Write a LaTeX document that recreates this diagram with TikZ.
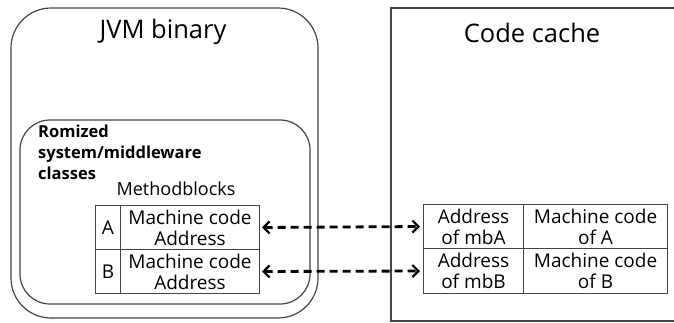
\documentclass[tikz,border=0pt]{standalone}
\usepackage{fontspec}
\setmainfont{Open Sans}
\usetikzlibrary{arrows.meta}
\definecolor{edge}{HTML}{444444}
\tikzset{
  cell/.style={draw=edge, line width=1pt, inner sep=0pt, align=center,
    font=\fontsize{19}{21}\selectfont, anchor=north west},
  barbtip/.tip={Straight Barb[length=6pt,width=12pt,line width=2.2pt]},
  link/.style={line width=2.8pt, dash pattern=on 8pt off 5pt, {barbtip}-{barbtip}},
  titletext/.style={font=\fontsize{25.5}{30}\selectfont},
}
\begin{document}
\begin{tikzpicture}[x=1pt,y=-1pt]
\useasboundingbox (0,0) rectangle (674,322);
\clip (0,0) rectangle (674,322);

% JVM binary container and the romized classes area inside it
\draw[edge, line width=1.2pt, rounded corners=40pt] (11,8) rectangle (318,318);
\node[titletext] (jvm) at (163,32) {JVM binary};
\draw[edge, line width=1.2pt, rounded corners=30pt] (20,120) rectangle (310,304);
\node[anchor=west, align=left, inner sep=0pt,
  font=\fontsize{16.5}{21}\selectfont\bfseries] (rom) at (38,152)
  {Romized\\system/middleware\\classes};
\node[font=\fontsize{18}{21}\selectfont] (mbl) at (176,189) {Methodblocks};

% method blocks
\node[cell, minimum width=25pt, minimum height=44pt] (la) at (95,205) {A};
\node[cell, minimum width=139pt, minimum height=44pt] (ma) at (120,205) {Machine code\\Address};
\node[cell, minimum width=25pt, minimum height=44pt] (lb) at (95,249) {B};
\node[cell, minimum width=139pt, minimum height=44pt] (mb) at (120,249) {Machine code\\Address};

% code cache
\draw[edge, line width=1.2pt] (391,8) rectangle (690,321);
\node[titletext] (cc) at (532,33) {Code cache};
\node[cell, minimum width=100pt, minimum height=44pt] (aa) at (423,204) {Address\\of mbA};
\node[cell, minimum width=144pt, minimum height=44pt] (ca) at (523,204) {Machine code\\of A};
\node[cell, minimum width=100pt, minimum height=45pt] (ab) at (423,248) {Address\\of mbB};
\node[cell, minimum width=144pt, minimum height=45pt] (cb) at (523,248) {Machine code\\of B};

% links between method blocks and compiled code entries
\draw[link] ([xshift=2pt]ma.east) -- ([xshift=-3pt]aa.west);
\draw[link] ([xshift=2pt]mb.east) -- ([xshift=-3pt]ab.west);
\end{tikzpicture}
\end{document}
